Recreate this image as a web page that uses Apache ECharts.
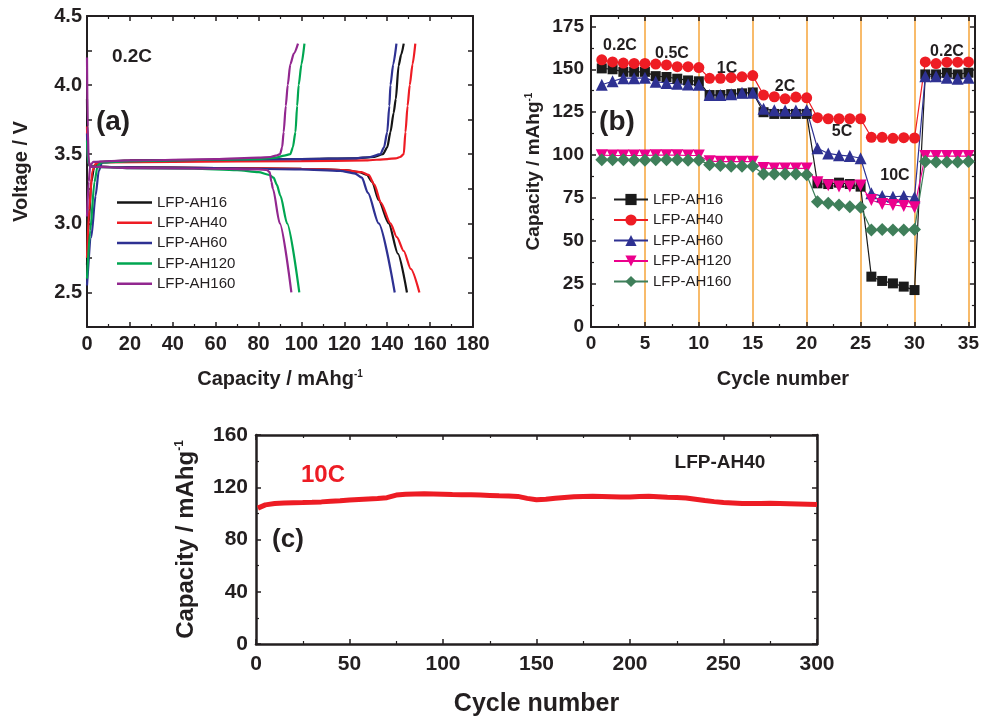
<!DOCTYPE html>
<html><head><meta charset="utf-8">
<script src="https://cdn.jsdelivr.net/npm/echarts@6/dist/echarts.min.js"></script>
<style>html,body{margin:0;padding:0;background:#fff}#c{width:982px;height:725px}</style>
</head><body><div id="c"></div><script>
// ---------- Panel (a): voltage profiles at 0.2C ----------
const sampleNames = ['LFP-AH16', 'LFP-AH40', 'LFP-AH60', 'LFP-AH120', 'LFP-AH160'];
const chargeAH16 = [[0,2.7],[0.8,3.0],[2,3.3],[3.5,3.42],[6,3.445],[20,3.455],[60,3.46],[100,3.465],[125,3.47],[134,3.48],[138,3.5],[140,3.55],[141.5,3.66],[143,3.8],[144,3.9],[145.3,4.14],[146.5,4.22],[147.7,4.3]];
const dischargeAH16 = [[0,3.9],[0.3,3.5],[1,3.42],[3,3.41],[20,3.405],[60,3.4],[100,3.395],[120,3.385],[127,3.37],[130.5,3.35],[133,3.3],[136,3.17],[140.7,3.0],[145,2.78],[149.2,2.5]];
const chargeAH40 = [[0,2.75],[1,3.1],[2.5,3.38],[4,3.43],[8,3.44],[40,3.445],[100,3.45],[130,3.455],[140,3.465],[144,3.47],[146,3.48],[147.7,3.5],[148.5,3.66],[149.5,3.85],[150.5,4.0],[151.8,4.15],[153.1,4.3]];
const dischargeAH40 = [[0,3.7],[0.4,3.45],[1.5,3.41],[20,3.405],[60,3.4],[100,3.395],[120,3.385],[128,3.37],[131.3,3.35],[134,3.28],[137,3.15],[141.5,3.0],[144.5,2.9],[147.7,2.8],[151,2.67],[155,2.5]];
const chargeAH60 = [[0,2.55],[2,2.9],[4,3.2],[5.5,3.38],[7,3.44],[15,3.45],[60,3.46],[100,3.465],[125,3.47],[132,3.48],[136.8,3.5],[138.5,3.55],[140,3.66],[141,3.85],[141.5,4.0],[142.8,4.15],[144.3,4.3]];
const dischargeAH60 = [[0,3.65],[0.4,3.45],[1.5,3.41],[20,3.405],[60,3.4],[100,3.39],[118,3.38],[125,3.36],[128.2,3.33],[131,3.22],[136,3.0],[143.5,2.5]];
const chargeAH120 = [[0,2.6],[1.5,2.95],[3.5,3.3],[5,3.42],[7,3.44],[20,3.45],[60,3.46],[80,3.465],[88,3.475],[92,3.49],[94.8,3.5],[96,3.55],[97.2,3.66],[98,3.85],[98.7,4.0],[100,4.15],[101.4,4.3]];
const dischargeAH120 = [[0,3.6],[0.4,3.45],[1.5,3.41],[20,3.4],[50,3.395],[70,3.385],[80,3.37],[85,3.35],[87,3.33],[88.5,3.28],[90.2,3.2],[93.3,3.0],[99,2.5]];
const chargeAH160 = [[0,3.05],[0.8,3.3],[1.5,3.42],[3,3.445],[20,3.455],[60,3.465],[80,3.475],[85.5,3.48],[88,3.49],[90,3.5],[91,3.55],[91.7,3.66],[92.7,3.85],[93.6,4.0],[94.8,4.15],[96.5,4.23],[98.4,4.3]];
const dischargeAH160 = [[0,4.2],[0.3,3.7],[0.8,3.45],[1.5,3.41],[20,3.4],[60,3.395],[80,3.39],[84,3.385],[85.2,3.37],[86,3.3],[86.7,3.25],[89.9,3.0],[95.3,2.5]];

// ---------- Panel (b): rate capability ----------
const cycles = [1,2,3,4,5,6,7,8,9,10,11,12,13,14,15,16,17,18,19,20,21,22,23,24,25,26,27,28,29,30,31,32,33,34,35];
const rateAH16  = [150.5,150,148.5,148.5,148.5, 146,145.5,144.5,143.5,143, 135,135,135.5,136,136.5, 125,124,124,124,124, 83.6,83.2,84,83.2,81.7, 29.3,26.8,25.4,23.5,21.5, 147,147,148,147,148];
const rateAH40  = [155.5,154.3,153.6,153.4,153.4, 153,152.5,151.5,151.5,151, 144.7,144.7,145.1,145.6,146.3, 135,134,132.8,133.8,133.4, 121.8,121.2,121.2,121.2,121.2, 110.4,110.4,109.8,110.2,110, 154.3,153.3,154.1,154.1,154.3];
const rateAH60  = [141,143,144.8,144.8,145, 142.8,142,141.5,141.2,141, 135,135,135.5,136.4,136.4, 127,126.2,126,126,126.3, 104,101,100,99.5,98.2, 77.8,76.2,75.8,76.2,75.5, 146,146,145,144.5,145];
const rateAH120 = [100,99.8,99.8,99.8,99.8, 100,100,100,99.8,99.8, 96.5,96.2,96.2,96.2,96.2, 92.5,92.3,92.3,92.3,92.3, 84.2,82.5,81.7,81.7,82.3, 73.9,71.6,71,70.4,69.7, 99.5,99.5,99.5,99.5,99.5];
const rateAH160 = [97.3,97.3,97.3,97.1,97.1, 97.4,97.4,97.4,97.1,97.1, 94.5,94,93.5,93.5,93.5, 89,89,89,89,88.6, 72.9,72,71,70,69.7, 56.5,56.8,56.5,56.5,56.8, 96.3,96,96,96,96.3];
const rateLabels = ['0.2C','0.5C','1C','2C','5C','10C','0.2C'];

// ---------- Panel (c): cycling at 10C ----------
const cCycles = [1,5,10,15,20,25,30,35,40,45,50,55,60,65,70,75,80,85,90,95,100,105,110,115,120,125,130,135,140,145,150,155,160,165,170,175,180,185,190,195,200,205,210,215,220,225,230,235,240,245,250,255,260,265,270,275,280,285,290,295,300];
const cCapacity = [104,106.5,107.5,108,108.2,108.3,108.5,108.8,109.3,109.6,110.2,110.6,111,111.4,112,114,114.6,114.8,115,114.8,114.6,114.4,114.3,114.2,114,113.7,113.4,113.3,113,111.5,110.5,110.8,111.5,112.2,112.7,113,113.2,113,112.8,112.6,112.6,112.9,113.2,112.8,112.4,112.1,111.8,110.8,109.8,109,108.4,108,107.6,107.5,107.6,107.7,107.6,107.4,107.2,107,106.8];

const FONT = '"Liberation Sans", Arial, Helvetica, sans-serif';
const INK = '#231f20';
const aColors = ['#151515', '#ee1c24', '#2e3192', '#00a651', '#92278f'];
const bColors = ['#1b1b1b', '#ee1c24', '#2e3192', '#ec008c', '#3f7f5a'];
const bSymbols = ['rect', 'circle', 'triangle', 'triangle', 'diamond'];
const bSizes = [10, 11, 12, 12, 13];
const bRotate = [0, 0, 0, 180, 0];

function axis(gridIndex, position, min, max, interval, opt) {
  const lw = opt.lineWidth || 2;
  return {
    type: 'value', gridIndex, position, min, max, interval,
    axisLine: { show: true, onZero: false, lineStyle: { color: INK, width: lw } },
    axisTick: { show: true, inside: true, length: 5, lineStyle: { color: INK, width: 1.5 } },
    minorTick: { show: !!opt.minor, splitNumber: opt.minor || 2, length: 3, lineStyle: { color: INK, width: 1.2 } },
    axisLabel: {
      show: !!opt.labels, fontFamily: FONT, fontWeight: 'bold', fontSize: opt.fontSize || 20,
      color: INK, margin: opt.margin || 7, showMaxLabel: opt.showMax !== false,
      formatter: opt.formatter
    },
    splitLine: opt.splitLine || { show: false },
    name: opt.name || '', nameLocation: 'middle', nameGap: opt.nameGap || 40,
    nameRotate: opt.nameRotate,
    nameTextStyle: {
      fontFamily: FONT, fontWeight: 'bold', fontSize: opt.nameSize || 20, color: INK,
      rich: {
        t: { fontFamily: FONT, fontWeight: 'bold', fontSize: opt.nameSize || 20, color: INK },
        s: { fontFamily: FONT, fontWeight: 'bold', fontSize: Math.round((opt.nameSize || 20) * 0.5), color: INK, verticalAlign: 'top' }
      }
    }
  };
}

const capName = '{t|Capacity / mAhg}{s|-1}';
const halfFmt = v => (Math.abs(v * 2 - Math.round(v * 2)) < 1e-6 ? v.toFixed(1) : '');

const xAxes = [
  axis(0, 'bottom', 0, 180, 20, { labels: true, minor: 2, margin: 7, name: capName, nameGap: 42, nameSize: 20 }),
  axis(0, 'top', 0, 180, 20, { minor: 2 }),
  axis(1, 'bottom', 0, 35.6, 5, { labels: true, minor: 2, fontSize: 19, margin: 7, showMax: false,
    name: 'Cycle number', nameGap: 42, nameSize: 20,
    splitLine: { show: true, showMinLine: false, showMaxLine: false, lineStyle: { color: '#f6a43a', width: 1.5 } } }),
  axis(1, 'top', 0, 35.6, 5, { minor: 2 }),
  axis(2, 'bottom', 0, 300, 50, { labels: true, minor: 2, fontSize: 21, margin: 10, lineWidth: 2.5,
    name: 'Cycle number', nameGap: 48, nameSize: 25 }),
  axis(2, 'top', 0, 300, 50, { minor: 2, lineWidth: 2.5 })
];
const yAxes = [
  axis(0, 'left', 2.25, 4.5, 0.25, { labels: true, margin: 5, formatter: halfFmt,
    name: 'Voltage / V', nameGap: 56, nameRotate: 90, nameSize: 20 }),
  axis(0, 'right', 2.25, 4.5, 0.25, {}),
  axis(1, 'left', 0, 181, 25, { labels: true, minor: 2, fontSize: 19, margin: 7, showMax: false,
    name: capName, nameGap: 48, nameRotate: 90, nameSize: 19 }),
  axis(1, 'right', 0, 181, 25, { minor: 2 }),
  axis(2, 'left', 0, 160, 40, { labels: true, minor: 2, fontSize: 21, margin: 8, lineWidth: 2.5,
    name: capName, nameGap: 58, nameRotate: 90, nameSize: 24 }),
  axis(2, 'right', 0, 160, 40, { minor: 2, lineWidth: 2.5 })
];

const aCharge = [chargeAH16, chargeAH40, chargeAH60, chargeAH120, chargeAH160];
const aDischarge = [dischargeAH16, dischargeAH40, dischargeAH60, dischargeAH120, dischargeAH160];
const bRates = [rateAH16, rateAH40, rateAH60, rateAH120, rateAH160];

const series = [];
sampleNames.forEach((n, i) => {
  series.push({
    name: n, type: 'line', xAxisIndex: 0, yAxisIndex: 0, symbol: 'none', showSymbol: false,
    smooth: 0.25, smoothMonotone: 'x', connectNulls: false,
    lineStyle: { color: aColors[i], width: 2.2 }, itemStyle: { color: aColors[i] },
    data: aCharge[i].concat(['-'], aDischarge[i])
  });
});
sampleNames.forEach((n, i) => {
  series.push({
    name: n + ' ', type: 'line', xAxisIndex: 2, yAxisIndex: 2,
    symbol: bSymbols[i], symbolSize: bSizes[i], symbolRotate: bRotate[i],
    lineStyle: { color: bColors[i], width: 1.2 }, itemStyle: { color: bColors[i] },
    data: cycles.map((c, k) => [c, bRates[i][k]])
  });
});
series.push({
  name: 'LFP-AH40 10C', type: 'line', xAxisIndex: 4, yAxisIndex: 4, symbol: 'none', showSymbol: false,
  lineStyle: { color: '#ed1c24', width: 5 },
  data: cCycles.map((c, k) => [c, cCapacity[k]])
});

function txt(x, y, text, size, color) {
  return { type: 'text', x, y, style: { text, fontFamily: FONT, fontWeight: 'bold', fontSize: size,
    fill: color || INK, align: 'center', verticalAlign: 'middle' } };
}
const rateLabelPos = [[620,46],[672,54],[727,69],[785,87],[842,132],[895,176],[947,52]];
const graphics = [
  txt(132, 57, '0.2C', 19), txt(113, 122, '(a)', 28),
  txt(617, 122, '(b)', 28),
  txt(323, 475, '10C', 24, '#ed1c24'), txt(720, 463, 'LFP-AH40', 19), txt(288, 540, '(c)', 26)
];
rateLabels.forEach((t, i) => graphics.push(txt(rateLabelPos[i][0], rateLabelPos[i][1], t, 16)));

const legendText = { fontFamily: FONT, fontSize: 15, color: INK };
const option = {
  animation: false,
  backgroundColor: '#fff',
  grid: [
    { left: 87, top: 16, width: 386, height: 311 },
    { left: 591, top: 16, width: 386, height: 311 },
    { left: 256, top: 435, width: 561, height: 209 }
  ],
  xAxis: xAxes, yAxis: yAxes,
  legend: [
    { orient: 'vertical', left: 112, top: 190, icon: 'rect', itemWidth: 35, itemHeight: 2.5, itemGap: 5.3,
      textStyle: legendText, data: sampleNames, selectedMode: false },
    { orient: 'vertical', left: 608, top: 187, itemWidth: 34, itemHeight: 14, itemGap: 5.5,
      textStyle: legendText, data: sampleNames.map(n => n + ' '), selectedMode: false }
  ],
  graphic: graphics,
  series
};
const chart = echarts.init(document.getElementById('c'), null, { renderer: 'canvas' });
chart.setOption(option);
</script></body></html>
